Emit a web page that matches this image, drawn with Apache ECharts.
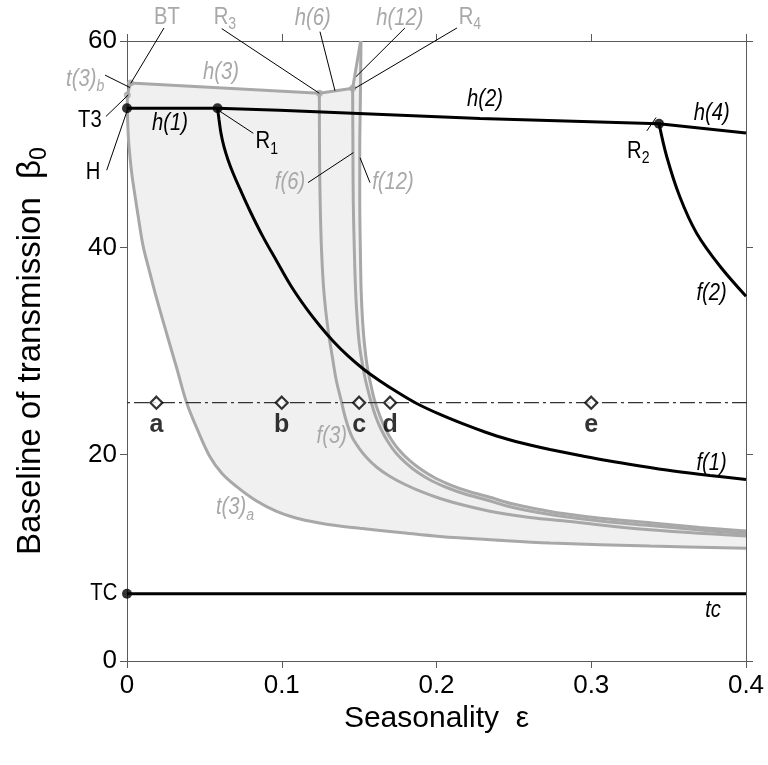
<!DOCTYPE html>
<html>
<head>
<meta charset="utf-8">
<script src="https://cdn.jsdelivr.net/npm/echarts@6/dist/echarts.min.js"></script>
<style>
  html, body { margin: 0; padding: 0; background: #fff; }
  #chart { width: 768px; height: 765px; }
</style>
</head>
<body>
<div id="chart"></div>
<script>
// Axis ticks
const xTicks = [0, 0.1, 0.2, 0.3, 0.4];
const yTicks = [0, 20, 40, 60];

// Bifurcation branches, [seasonality eps, baseline transmission beta0]
const h1 = [[0, 53.5], [0.0585, 53.5]];
const h2 = [[0.0585, 53.5], [0.0985, 53.3], [0.2282, 52.5], [0.3438, 52.0]];
const h4 = [[0.3438, 52.0], [0.4, 51.1]];
const f1 = [[0.0585, 53.49], [0.0595, 52.36], [0.0607, 51.10], [0.0627, 49.75], [0.0653, 48.49],
            [0.0685, 47.23], [0.0730, 45.68], [0.0795, 43.55], [0.0879, 41.04], [0.0967, 38.71],
            [0.1060, 36.29], [0.1161, 34.07], [0.1247, 32.42], [0.1331, 30.97], [0.1428, 29.52],
            [0.1527, 28.26], [0.1635, 27.10], [0.1751, 25.98], [0.1872, 24.92], [0.2023, 23.86],
            [0.2173, 22.94], [0.2313, 22.16], [0.2454, 21.48], [0.2604, 20.90], [0.2733, 20.47],
            [0.2927, 19.89], [0.3100, 19.40], [0.3315, 18.87], [0.3530, 18.39], [0.3767, 17.95],
            [0.4, 17.57]];
const f2 = [[0.3438, 52.0], [0.3488, 48.8], [0.3573, 44.9], [0.3681, 41.4], [0.3832, 38.2], [0.4, 35.3]];
const tcLine = [[0, 6.5], [0.4, 6.5]];

const t3b = [[0.0023, 55.94], [0.0002, 54.78]];
const t3a = [[0.0002, 54.77], [0.0003, 53.03], [0.0008, 50.90], [0.0018, 48.97], [0.0032, 47.03],
             [0.0052, 45.0], [0.0076, 42.68], [0.0105, 40.10], [0.0149, 37.50], [0.0194, 34.94],
             [0.0258, 31.60], [0.0323, 28.26], [0.0386, 24.97], [0.0459, 22.26], [0.0536, 19.77],
             [0.0614, 18.15], [0.0709, 16.87], [0.0827, 15.58], [0.0967, 14.47], [0.1092, 13.84],
             [0.1226, 13.40], [0.1363, 13.08], [0.1506, 12.84], [0.1764, 12.44], [0.2023, 12.05],
             [0.2378, 11.71], [0.2734, 11.42], [0.3380, 11.13], [0.4, 10.91]];
const h3 = [[0.0023, 55.94], [0.1243, 54.94]];
const h6 = [[0.1243, 54.94], [0.1458, 55.42]];
const h12 = [[0.1458, 55.42], [0.1510, 60]];
const f3 = [[0.1243, 54.94], [0.1244, 49.45], [0.1248, 44.61], [0.1257, 39.77], [0.1269, 36.39],
            [0.1285, 33.78], [0.1304, 31.55], [0.1327, 29.42], [0.1352, 27.19], [0.1383, 25.26],
            [0.1415, 23.32], [0.1454, 21.68], [0.1499, 20.61], [0.1551, 19.65], [0.1616, 18.73],
            [0.1700, 17.86], [0.1797, 17.08], [0.1906, 16.36], [0.2023, 15.73], [0.2184, 15.05],
            [0.2389, 14.37], [0.2604, 13.89], [0.2863, 13.50], [0.3315, 12.77], [0.4, 12.10]];
const f6 = [[0.1458, 55.42], [0.1460, 49.45], [0.1462, 44.61], [0.1469, 39.77], [0.1477, 35.90],
            [0.1488, 33.00], [0.1502, 30.58], [0.1522, 28.65], [0.1544, 27.00], [0.1574, 25.26],
            [0.1606, 23.71], [0.1641, 22.45], [0.1687, 21.19], [0.1738, 20.13], [0.1803, 19.16],
            [0.1880, 18.24], [0.1971, 17.42], [0.2074, 16.74], [0.2184, 16.16], [0.2313, 15.63],
            [0.2456, 15.00], [0.2604, 14.52], [0.2798, 14.03], [0.3057, 13.55], [0.3380, 13.11],
            [0.3703, 12.68], [0.4, 12.34]];
const f12 = [[0.1512, 60.0], [0.1508, 54.29], [0.1504, 49.45], [0.1504, 44.61], [0.1508, 39.77],
             [0.1513, 35.90], [0.1522, 33.00], [0.1535, 30.58], [0.1551, 28.65], [0.1572, 27.00],
             [0.1599, 25.26], [0.1632, 23.81], [0.1667, 22.55], [0.1712, 21.34], [0.1764, 20.32],
             [0.1829, 19.36], [0.1906, 18.48], [0.1997, 17.66], [0.2100, 16.98], [0.2210, 16.40],
             [0.2339, 15.87], [0.2481, 15.24], [0.2630, 14.76], [0.2818, 14.27], [0.3076, 13.79],
             [0.3393, 13.36], [0.3703, 12.92], [0.4, 12.58]];

// Special points
const blackPoints = [[0, 53.5], [0.0585, 53.5], [0.3438, 52.0], [0, 6.5]];
const greyPoints = [[0.0023, 55.94], [0.0002, 54.78], [0.1243, 54.94], [0.1458, 55.42]];

// Sampled parameter sets along the dash-dot level
const sampleLevel = 25;
const sampleEps = [0.019, 0.1, 0.15, 0.17, 0.3];
const sampleNames = ['a', 'b', 'c', 'd', 'e'];

// Annotation text anchored in data coordinates
const annotations = [
  { t: 'BT', x: 0.0258, y: 62.3, c: 'g' },
  { t: 'R', sub: '3', x: 0.0633, y: 62.3, c: 'g' },
  { t: 'h(6)', x: 0.1200, y: 62.2, c: 'g', i: 1 },
  { t: 'h(12)', x: 0.1764, y: 62.2, c: 'g', i: 1 },
  { t: 'R', sub: '4', x: 0.2216, y: 62.3, c: 'g' },
  { t: 'h(3)', x: 0.0607, y: 56.9, c: 'g', i: 1 },
  { t: 't(3)', sub: 'b', x: -0.0270, y: 56.3, c: 'g', i: 1 },
  { t: 'T3', x: -0.0240, y: 52.3, c: 'k' },
  { t: 'H', x: -0.0220, y: 47.3, c: 'k' },
  { t: 'h(1)', x: 0.0278, y: 52.0, c: 'k', i: 1 },
  { t: 'R', sub: '1', x: 0.0903, y: 50.25, c: 'k' },
  { t: 'h(2)', x: 0.2313, y: 54.3, c: 'k', i: 1 },
  { t: 'h(4)', x: 0.3778, y: 53.0, c: 'k', i: 1 },
  { t: 'R', sub: '2', x: 0.3304, y: 49.3, c: 'k' },
  { t: 'f(2)', x: 0.3778, y: 35.6, c: 'k', i: 1 },
  { t: 'f(1)', x: 0.3778, y: 19.1, c: 'k', i: 1 },
  { t: 'tc', x: 0.3787, y: 4.9, c: 'k', i: 1 },
  { t: 'f(6)', x: 0.1053, y: 46.3, c: 'g', i: 1 },
  { t: 'f(12)', x: 0.1719, y: 46.3, c: 'g', i: 1 },
  { t: 'f(3)', x: 0.1323, y: 21.7, c: 'g', i: 1 },
  { t: 't(3)', sub: 'a', x: 0.0698, y: 14.8, c: 'g', i: 1 },
  { t: 'TC', x: -0.0150, y: 6.5, c: 'k' }
];

// Leader segments [x1, y1, x2, y2]
const leaders = [
  [0.0239, 61.26, 0.0024, 55.9],
  [0.0612, 61.2, 0.1243, 54.94],
  [0.1247, 60.9, 0.1344, 55.19],
  [0.1796, 61.26, 0.1480, 56.55],
  [0.2132, 61.26, 0.1473, 55.42],
  [-0.0142, 56.7, 0.0019, 55.5],
  [-0.0136, 52.7, 0.0008, 54.78],
  [-0.0131, 47.5, 0.0002, 53.3],
  [0.0590, 53.3, 0.0816, 51.07],
  [0.3359, 51.3, 0.3419, 52.6],
  [0.1170, 46.3, 0.1463, 49.2],
  [0.1570, 46.3, 0.1506, 48.7]
];

const FONT = 'Arial, "Liberation Sans", Helvetica, sans-serif';
const GREY = '#a8a8a8';
const FILL = '#f0f0f0';
const AXIS = '#5a5a5a';

// Outline of the shaded period-3 region
const shadedOutline = [].concat(
  t3b, t3a.slice(1),
  f12.slice().reverse(),
  h12.slice().reverse().slice(1),
  h6.slice().reverse().slice(1),
  h3.slice().reverse().slice(1)
);

function curve(data, color, smooth) {
  return {
    type: 'line', data: data, showSymbol: false, smooth: smooth ? 0.35 : false,
    lineStyle: { color: color, width: 3 }, z: color === GREY ? 3 : 5,
    silent: true, animation: false
  };
}

const chart = echarts.init(document.getElementById('chart'));

function makeXAxis(pos) {
  return {
    type: 'value', min: 0, max: 0.4, interval: 0.1, position: pos,
    axisLine: { show: true, onZero: false, lineStyle: { color: AXIS, width: 1 } },
    axisTick: { show: true, inside: false, length: 7, lineStyle: { color: AXIS } },
    splitLine: { show: false },
    axisLabel: pos === 'bottom' ? {
      fontSize: 26, color: '#000', fontFamily: FONT, margin: 12,
      formatter: v => (v === 0 ? '0' : String(+v.toFixed(1)))
    } : { show: false }
  };
}
function makeYAxis(pos) {
  return {
    type: 'value', min: 0, max: 60, interval: 20, position: pos,
    axisLine: { show: true, onZero: false, lineStyle: { color: AXIS, width: 1 } },
    axisTick: { show: true, inside: false, length: 7, lineStyle: { color: AXIS } },
    splitLine: { show: false },
    axisLabel: pos === 'left' ? { fontSize: 26, color: '#000', fontFamily: FONT, margin: 10 } : { show: false }
  };
}

const xA = makeXAxis('bottom');
xA.name = 'Seasonality  ε';
xA.nameLocation = 'middle';
xA.nameGap = 42;
xA.nameTextStyle = { fontSize: 30, color: '#000', fontFamily: FONT };
const yA = makeYAxis('left');
yA.name = '{m|Baseline of transmission  β}{s|0}';
yA.nameLocation = 'middle';
yA.nameGap = 76;
yA.nameTextStyle = {
  rich: {
    m: { fontSize: 33, color: '#000', fontFamily: FONT, lineHeight: 40 },
    s: { fontSize: 23, color: '#000', fontFamily: FONT, lineHeight: 23, verticalAlign: 'bottom' }
  }
};

const option = {
  animation: false,
  backgroundColor: '#fff',
  grid: { left: 127, right: 22, top: 41, bottom: 104, containLabel: false, outerBoundsMode: 'none' },
  xAxis: [xA, makeXAxis('top')],
  yAxis: [yA, makeYAxis('right')],
  series: [
    {
      type: 'custom', z: 1, silent: true, clip: true,
      data: [[0, 0]],
      renderItem: (params, api) => ({
        type: 'polygon',
        shape: { points: shadedOutline.map(p => api.coord(p)), smooth: 0 },
        style: { fill: FILL, stroke: null }
      })
    },
    curve(t3b, GREY, false),
    curve(t3a, GREY, true),
    curve(h3, GREY, false),
    curve(h6, GREY, false),
    curve(h12, GREY, false),
    curve(f3, GREY, true),
    curve(f6, GREY, true),
    curve(f12, GREY, true),
    {
      type: 'line', data: [[-0.0123, sampleLevel], [0.4123, sampleLevel]], showSymbol: false,
      clip: false, silent: true, z: 4,
      lineStyle: { color: '#333', width: 1.2, type: [15, 4, 3, 4] }
    },
    curve(h1, '#000', false),
    curve(h2, '#000', false),
    curve(h4, '#000', false),
    curve(f1, '#000', true),
    curve(f2, '#000', true),
    curve(tcLine, '#000', false),
    {
      type: 'scatter', data: greyPoints, symbolSize: 7, z: 6, silent: true, clip: false,
      itemStyle: { color: GREY }
    },
    {
      type: 'scatter', data: blackPoints, symbolSize: 10, z: 7, silent: true, clip: false,
      itemStyle: { color: '#000' }
    },
    {
      type: 'scatter', z: 8, silent: true,
      data: sampleEps.map((e, k) => ({ value: [e, sampleLevel], name: sampleNames[k] })),
      symbol: 'diamond', symbolSize: 12,
      itemStyle: { color: '#fff', borderColor: '#000', borderWidth: 2.2 },
      label: {
        show: true, position: 'bottom', distance: 3, formatter: p => p.name,
        fontSize: 25, fontWeight: 'bold', color: '#000', fontFamily: FONT
      }
    },
    {
      type: 'custom', z: 9, silent: true, clip: false,
      data: leaders,
      renderItem: (params, api) => {
        const a = api.coord([api.value(0), api.value(1)]);
        const b = api.coord([api.value(2), api.value(3)]);
        return { type: 'line', shape: { x1: a[0], y1: a[1], x2: b[0], y2: b[1] },
                 style: { stroke: '#000', lineWidth: 1 } };
      }
    },
    {
      type: 'custom', z: 10, silent: true, clip: false,
      data: annotations.map(a => [a.x, a.y]),
      renderItem: (params, api) => {
        const L = annotations[params.dataIndex];
        const p = api.coord([api.value(0), api.value(1)]);
        const color = L.c === 'g' ? GREY : '#000';
        const fs = L.i ? 'italic' : 'normal';
        const size = 23;
        const text = L.sub ? '{m|' + L.t + '}{s|' + L.sub + '}' : '{m|' + L.t + '}';
        return {
          type: 'text', x: p[0], y: p[1], scaleX: 0.88,
          style: {
            text: text, align: 'center', verticalAlign: 'middle',
            rich: {
              m: { fontSize: size, fontStyle: fs, fontFamily: FONT, fill: color, lineHeight: size + 8 },
              s: { fontSize: 16, fontStyle: fs, fontFamily: FONT, fill: color, lineHeight: 16, verticalAlign: 'bottom' }
            }
          }
        };
      }
    }
  ]
};

chart.setOption(option);
</script>
</body>
</html>
